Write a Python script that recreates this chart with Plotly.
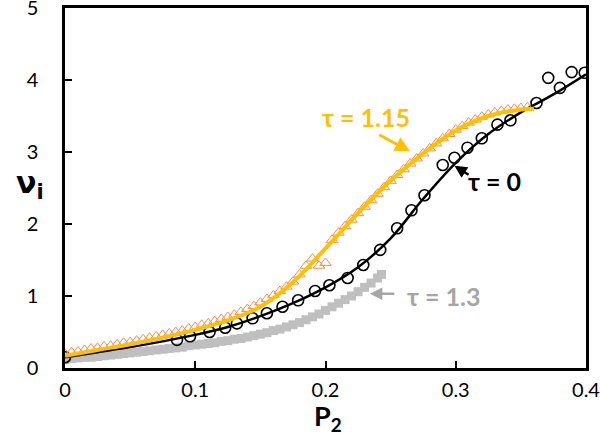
import plotly.graph_objects as go

# tau = 0 : open circles (data) and black fit line
p_circ = [0.0, 0.086, 0.096,
          0.111, 0.123, 0.132, 0.144, 0.155, 0.167, 0.179, 0.192, 0.203, 0.217,
          0.229, 0.242, 0.255, 0.266, 0.276, 0.290, 0.299, 0.309, 0.320, 0.332,
          0.342, 0.362, 0.371, 0.380, 0.389, 0.399]
v_circ = [0.15, 0.39, 0.44,
          0.50, 0.56, 0.62, 0.69, 0.76, 0.85, 0.94, 1.07, 1.15, 1.25,
          1.43, 1.64, 1.94, 2.19, 2.40, 2.82, 2.92, 3.06, 3.19, 3.38,
          3.44, 3.68, 4.03, 3.89, 4.11, 4.10]

p_line0 = [0, 0.025, 0.05, 0.075, 0.1, 0.125, 0.15, 0.175, 0.2, 0.225, 0.25,
           0.275, 0.3, 0.325, 0.35, 0.375, 0.4]
v_line0 = [0.15, 0.22, 0.29, 0.37, 0.46, 0.57, 0.72, 0.90, 1.12, 1.40, 1.80,
           2.35, 2.85, 3.25, 3.55, 3.80, 4.08]

# tau = 1.15 : open triangles and yellow line
p_tri = [0.000, 0.005, 0.010, 0.015, 0.020, 0.025, 0.030, 0.035, 0.040, 0.045,
         0.050, 0.055, 0.060, 0.065, 0.070, 0.075, 0.080, 0.085, 0.090, 0.095,
         0.100, 0.105, 0.110, 0.115, 0.120, 0.125, 0.130, 0.135, 0.140, 0.145,
         0.150, 0.155, 0.160, 0.165, 0.170, 0.175, 0.180, 0.185, 0.190, 0.195,
         0.200, 0.205, 0.210, 0.215, 0.220, 0.225, 0.230, 0.235, 0.240, 0.245,
         0.250, 0.255, 0.260, 0.265, 0.270, 0.275, 0.280, 0.285, 0.290, 0.295,
         0.300, 0.305, 0.310, 0.315, 0.320, 0.325, 0.330, 0.335, 0.340, 0.345,
         0.350, 0.355]
v_tri = [0.20, 0.22, 0.23, 0.25, 0.27, 0.28, 0.30, 0.31, 0.33, 0.35,
         0.36, 0.38, 0.40, 0.42, 0.44, 0.46, 0.48, 0.50, 0.52, 0.55,
         0.57, 0.60, 0.62, 0.65, 0.68, 0.71, 0.74, 0.78, 0.82, 0.86,
         0.91, 0.96, 1.01, 1.07, 1.13, 1.20, 1.30, 1.42, 1.52, 1.42,
         1.46, 1.78, 1.88, 1.97, 2.06, 2.15, 2.24, 2.33, 2.42, 2.51,
         2.60, 2.68, 2.76, 2.84, 2.91, 2.98, 3.05, 3.12, 3.19, 3.25,
         3.31, 3.36, 3.41, 3.45, 3.49, 3.52, 3.55, 3.57, 3.59, 3.60,
         3.61, 3.62]

p_line115 = [0, 0.025, 0.05, 0.075, 0.1, 0.125, 0.15, 0.175, 0.2, 0.225, 0.25,
             0.275, 0.3, 0.325, 0.35, 0.36]
v_line115 = [0.17, 0.25, 0.33, 0.42, 0.53, 0.66, 0.85, 1.19, 1.66, 2.15, 2.60,
             2.98, 3.30, 3.50, 3.59, 3.60]

# tau = 1.3 : grey squares
p_sq = [0.000, 0.005, 0.010, 0.015, 0.020, 0.025, 0.030, 0.035, 0.040, 0.045,
        0.050, 0.055, 0.060, 0.065, 0.070, 0.075, 0.080, 0.085, 0.090, 0.095,
        0.100, 0.105, 0.110, 0.115, 0.120, 0.125, 0.130, 0.135, 0.140, 0.145,
        0.150, 0.155, 0.160, 0.165, 0.170, 0.175, 0.180, 0.185, 0.190, 0.195,
        0.200, 0.205, 0.210, 0.215, 0.220, 0.225, 0.230, 0.235, 0.240, 0.243]
v_sq = [0.12, 0.13, 0.14, 0.15, 0.15, 0.16, 0.17, 0.18, 0.19, 0.20,
        0.21, 0.22, 0.23, 0.24, 0.25, 0.26, 0.27, 0.28, 0.29, 0.31,
        0.32, 0.33, 0.34, 0.35, 0.37, 0.38, 0.40, 0.41, 0.43, 0.45,
        0.47, 0.49, 0.52, 0.54, 0.57, 0.60, 0.63, 0.67, 0.71, 0.75,
        0.80, 0.85, 0.90, 0.95, 1.00, 1.06, 1.12, 1.18, 1.25, 1.30]

x_ticks = [0, 0.1, 0.2, 0.3, 0.4]
x_tick_labels = ["0", "0.1", "0.2", "0.3", "0.4"]
y_ticks = [0, 1, 2, 3, 4, 5]
y_tick_labels = ["0", "1", "2", "3", "4", "5"]

FONT = "Lato"
YELLOW = "#FFC000"
ORANGE = "#F58C4F"
GREY = "#BFBFBF"
GREY_TXT = "#A6A6A6"

fig = go.Figure()
fig.add_trace(go.Scatter(x=p_sq, y=v_sq, mode="markers",
                         marker=dict(symbol="square", size=9, color=GREY, line=dict(width=0))))
fig.add_trace(go.Scatter(x=p_circ, y=v_circ, mode="markers",
                         marker=dict(symbol="circle-open", size=11, color="black", line=dict(width=1.6))))
fig.add_trace(go.Scatter(x=p_line0, y=v_line0, mode="lines", line=dict(color="black", width=2.5, shape="spline")))
fig.add_trace(go.Scatter(x=p_tri, y=v_tri, mode="markers",
                         marker=dict(symbol="triangle-up-open", size=10, color=ORANGE, line=dict(width=1))))
fig.add_trace(go.Scatter(x=p_line115, y=v_line115, mode="lines", line=dict(color=YELLOW, width=4, shape="spline")))

# series labels
fig.add_annotation(x=0.231, y=3.49, xref="x", yref="y", text="<b>τ = 1.15</b>", showarrow=False,
                   font=dict(family=FONT, size=25, color=YELLOW))
fig.add_annotation(x=0.330, y=2.60, xref="x", yref="y", text="<b>τ = 0</b>", showarrow=False,
                   font=dict(family=FONT, size=25, color="black"))
fig.add_annotation(x=0.291, y=1.00, xref="x", yref="y", text="<b>τ = 1.3</b>", showarrow=False,
                   font=dict(family=FONT, size=25, color=GREY_TXT))
# arrows
fig.add_annotation(x=0.265, y=3.01, ax=0.240, ay=3.25, xref="x", yref="y", axref="x", ayref="y",
                   text="", showarrow=True, arrowhead=2, arrowsize=1, arrowwidth=3, arrowcolor=YELLOW)
fig.add_annotation(x=0.299, y=2.81, ax=0.311, ay=2.67, xref="x", yref="y", axref="x", ayref="y",
                   text="", showarrow=True, arrowhead=2, arrowsize=1, arrowwidth=2.5, arrowcolor="black")
fig.add_annotation(x=0.234, y=1.03, ax=0.254, ay=1.03, xref="x", yref="y", axref="x", ayref="y",
                   text="", showarrow=True, arrowhead=2, arrowsize=1, arrowwidth=2.5, arrowcolor=GREY_TXT)
# axis titles
fig.add_annotation(x=-0.097, y=0.51, xref="paper", yref="paper",
                   text="<b>ν<sub>i</sub></b>", showarrow=False,
                   font=dict(family="DejaVu Sans", size=30, color="black"))
fig.add_annotation(x=0.505, y=-0.195, xref="paper", yref="paper",
                   text="<b>P<sub>2</sub></b>", showarrow=False,
                   font=dict(family=FONT, size=27, color="black"))

fig.update_layout(
    width=600, height=444,
    margin=dict(l=65, r=14, t=8, b=76),
    paper_bgcolor="white", plot_bgcolor="white",
    showlegend=False,
    font=dict(family=FONT, size=20, color="black"),
)
fig.update_xaxes(range=[0, 0.4], tickvals=x_ticks, ticktext=x_tick_labels, automargin=False,
                 ticklabeloverflow="allow", ticklabelstandoff=2,
                 showgrid=False, zeroline=False, showline=True, linecolor="black", linewidth=2.5,
                 mirror=True, ticks="inside", ticklen=7, tickwidth=1.5, tickcolor="black",
                 tickfont=dict(family=FONT, size=20))
fig.update_yaxes(range=[0, 5], tickvals=y_ticks, ticktext=y_tick_labels, automargin=False,
                 ticklabeloverflow="allow", ticklabelstandoff=20,
                 showgrid=False, zeroline=False, showline=True, linecolor="black", linewidth=2.5,
                 mirror=True, ticks="inside", ticklen=7, tickwidth=1.5, tickcolor="black",
                 tickfont=dict(family=FONT, size=20))

fig.write_html("out.html", config={"displayModeBar": False},
               post_script="document.body.style.margin='0';")
